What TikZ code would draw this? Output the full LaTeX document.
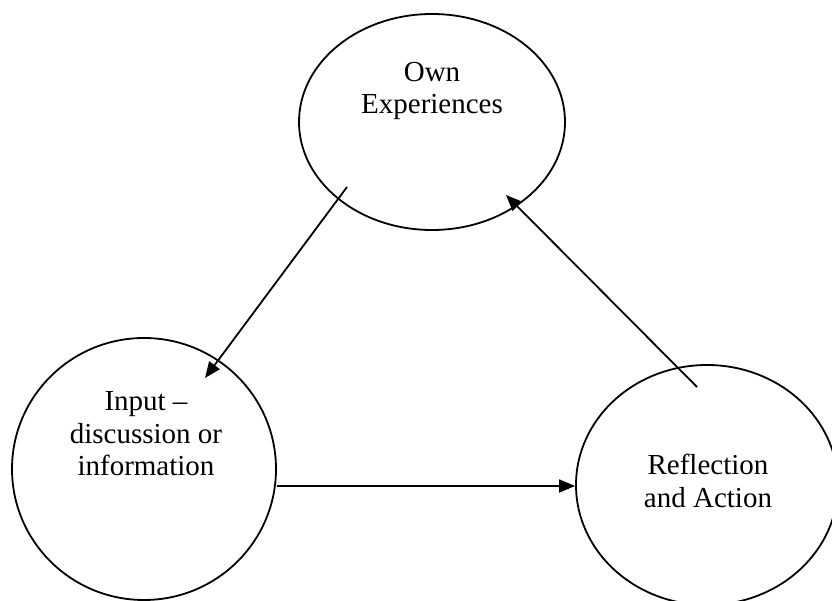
\documentclass[tikz,border=0pt]{standalone}
\usepackage{fontspec}
\setmainfont{Liberation Serif}
\usetikzlibrary{shapes.geometric,arrows.meta}
\begin{document}
\begin{tikzpicture}[x=1pt,y=-1pt,
  bubble/.style={draw=black,line width=1.8pt,ellipse,inner sep=0pt},
  label/.style={align=center,inner sep=0pt,font=\fontsize{29}{32.5}\selectfont},
  conn/.style={line width=1.8pt,-{Triangle[length=16pt,width=13pt]}}]
\useasboundingbox (0,0) rectangle (832,601);
\clip (0,0) rectangle (832,601);
\node[bubble,minimum width=266pt,minimum height=216pt] (own) at (432,122) {};
\node[bubble,minimum width=264pt,minimum height=262pt] (inp) at (144,469) {};
\node[bubble,minimum width=262pt,minimum height=240pt] (ref) at (707,485) {};
\node[label] (ownt) at (432,91) {Own\\Experiences};
\node[label] (inpt) at (146,434) {Input --\\discussion or\\information};
\node[label] (reft) at (708,481) {Reflection\\and Action};
\coordinate (a1s) at (347,187);
\coordinate (a1e) at (205,378);
\coordinate (a2s) at (697,387);
\coordinate (a2e) at (506,195);
\coordinate (a3s) at (inp.east |- 0,486);
\coordinate (a3e) at (ref.west |- 0,486);
\draw[conn] (a1s) -- (a1e);
\draw[conn] (a2s) -- (a2e);
\draw[conn] (a3s) -- (a3e);
\end{tikzpicture}
\end{document}
